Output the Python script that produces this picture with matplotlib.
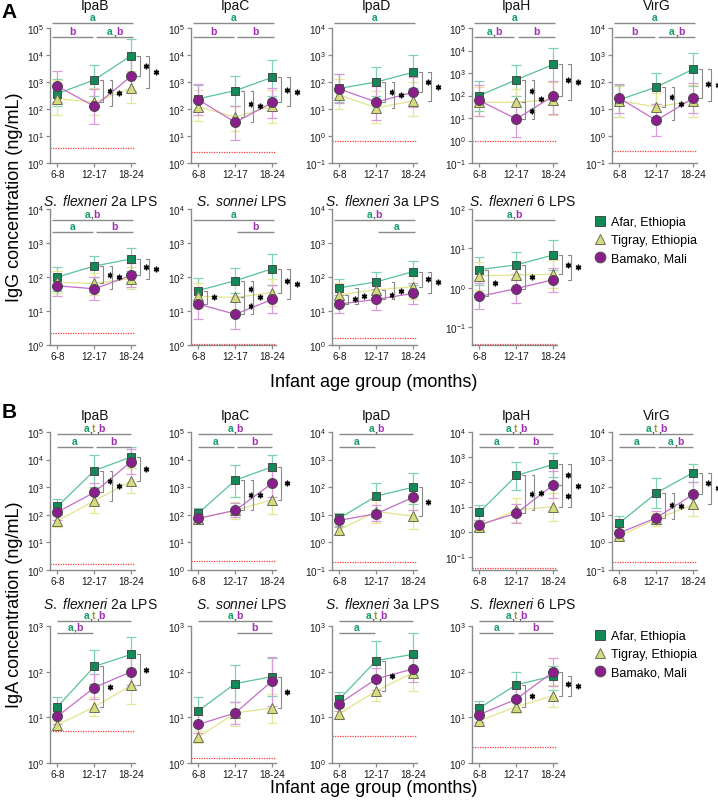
import numpy as np
import matplotlib
matplotlib.use('Agg')
import matplotlib.pyplot as plt
from matplotlib.lines import Line2D
from matplotlib.ticker import NullLocator
from matplotlib.transforms import offset_copy

plt.rcParams['font.family'] = ['Liberation Sans', 'DejaVu Sans']
plt.rcParams['mathtext.fontset'] = 'custom'
plt.rcParams['mathtext.rm'] = 'Liberation Sans'
plt.rcParams['mathtext.it'] = 'Liberation Sans:italic'
plt.rcParams['mathtext.bf'] = 'Liberation Sans:bold'

# ---------------- data ----------------
AGE_GROUPS = ['6-8', '12-17', '18-24']
SITES = ['Afar, Ethiopia', 'Tigray, Ethiopia', 'Bamako, Mali']
TITLES = ['IpaB', 'IpaC', 'IpaD', 'IpaH', 'VirG',
          r'$\mathit{S.\ flexneri}$ 2a LPS', r'$\mathit{S.\ sonnei}$ LPS',
          r'$\mathit{S.\ flexneri}$ 3a LPS', r'$\mathit{S.\ flexneri}$ 6 LPS']

# IgG (panel A): rows = antigens in TITLES order, columns = age groups
IGG_AFAR = [[370, 1200, 9500], [240, 480, 1500], [58, 100, 230], [100, 500, 2400], [22, 65, 300],
            [100, 210, 340], [40, 78, 175], [48, 72, 145], [2.9, 3.8, 6.8]]
IGG_AFAR_LO = [[130, 300, 2000], [90, 130, 300], [18, 30, 60], [20, 100, 400], [5, 15, 70],
               [40, 100, 150], [18, 35, 60], [22, 35, 60], [1.2, 1.7, 2.8]]
IGG_AFAR_HI = [[1300, 4300, 40000], [800, 1700, 6500], [200, 350, 1000], [450, 2300, 13000], [80, 220, 1200],
               [200, 420, 730], [95, 185, 480], [85, 140, 300], [6, 8, 16]]
IGG_TIGRAY = [[240, 180, 600], [120, 50, 130], [33, 11, 20], [50, 50, 65], [20, 12, 20],
              [70, 65, 90], [27, 25, 35], [30, 42, 52], [2.0, 2.1, 2.2]]
IGG_TIGRAY_LO = [[60, 60, 170], [35, 15, 30], [10, 3, 5.5], [12, 12, 13], [5, 3, 5],
                 [35, 30, 45], [12, 10, 14], [14, 20, 22], [0.9, 0.9, 1.0]]
IGG_TIGRAY_HI = [[1200, 600, 2500], [500, 130, 500], [130, 45, 100], [250, 200, 400], [70, 40, 80],
                 [150, 130, 200], [65, 65, 90], [65, 90, 110], [4.5, 4.5, 5]]
IGG_BAMAKO = [[700, 125, 1650], [220, 32, 175], [55, 18, 42], [60, 9, 95], [25, 3.8, 25],
              [55, 45, 112], [16, 8, 22], [16, 22, 33], [0.6, 0.95, 1.6]]
IGG_BAMAKO_LO = [[180, 28, 450], [60, 7, 45], [16, 4, 12], [12, 1.5, 15], [7, 1, 7],
                 [28, 21, 50], [6, 3, 9], [8.5, 11, 16], [0.28, 0.4, 0.8]]
IGG_BAMAKO_HI = [[2500, 550, 9000], [850, 130, 600], [200, 70, 150], [280, 50, 450], [85, 15, 90],
                 [110, 100, 260], [45, 25, 60], [30, 45, 65], [1.3, 2.2, 3.2]]
IGG_LOD = [3.6, 2.6, 0.68, 1.0, 0.28, 2.3, 1.05, 1.6, 0.038]
IGG_YMIN = [1, 1, 0.1, 0.1, 0.1, 1, 1, 1, 0.035]
IGG_YMAX = [1e5, 1e5, 1e4, 1e5, 1e4, 1e4, 1e4, 1e4, 1e2]

# IgA (panel B)
IGA_AFAR = [[200, 4000, 12500], [115, 1800, 5500], [7.5, 48, 100], [6, 180, 500], [5, 62, 340],
            [17, 130, 240], [14, 55, 78], [25, 175, 240], [16, 52, 80]]
IGA_AFAR_LO = [[100, 1000, 5000], [70, 450, 1800], [4, 15, 25], [3, 45, 160], [2.8, 18, 150],
               [10, 55, 100], [7, 22, 30], [17, 70, 85], [11, 27, 40]]
IGA_AFAR_HI = [[380, 15000, 28000], [180, 6500, 15000], [12, 140, 340], [12, 600, 1400], [9, 210, 700],
               [28, 300, 580], [28, 140, 200], [36, 460, 720], [23, 100, 130]]
IGA_TIGRAY = [[60, 320, 1700], [72, 145, 350], [2.9, 13, 9], [1.6, 7.5, 10], [1.7, 7, 24],
              [6.8, 17, 50], [3.7, 12.5, 16], [12, 38, 95], [8.5, 17, 30]]
IGA_TIGRAY_LO = [[35, 120, 600], [50, 70, 110], [1.9, 5, 3], [1.1, 2.5, 2.8], [1.2, 3.8, 9],
                 [5.5, 10.5, 20], [2.8, 6.5, 7.5], [9, 23, 38], [6.5, 12.5, 17]]
IGA_TIGRAY_HI = [[110, 900, 5000], [110, 300, 1100], [4.5, 35, 35], [2.4, 22, 35], [2.5, 12, 60],
                 [8.5, 28, 120], [5, 22, 32], [16, 62, 220], [11, 23, 52]]
IGA_BAMAKO = [[125, 650, 8500], [75, 145, 1400], [6.3, 11, 43], [1.9, 5.5, 75], [2.2, 7.8, 55],
              [10.5, 45, 100], [7, 12.5, 63], [20, 70, 115], [11.5, 25, 100]]
IGA_BAMAKO_LO = [[65, 250, 3000], [50, 80, 450], [3.5, 6, 15], [1.2, 2.2, 22], [1.4, 4.5, 18],
                 [7, 25, 50], [4.5, 7, 18], [14, 40, 60], [8, 14, 48]]
IGA_BAMAKO_HI = [[250, 1400, 25000], [110, 270, 4000], [11, 22, 120], [3, 13, 280], [3.5, 14, 160],
                 [16, 90, 200], [11, 22, 210], [29, 120, 220], [16, 45, 200]]
IGA_LOD = [1.7, 2.1, 0.19, 0.036, 0.2, 5.0, 1.3, 3.9, 2.2]
IGA_YMIN = [1, 1, 0.1, 0.029, 0.1, 1, 1, 1, 1]
IGA_YMAX = [1e5, 1e5, 1e4, 1e4, 1e4, 1e3, 1e3, 1e3, 1e3]

# significance letters: (full-span label, left-half label, right-half label)
IGG_LETTERS = [('a', 'b', 'a,b'), ('a', 'b', 'b'), ('a', '', ''), ('a', 'a,b', 'b'), ('a', 'b', 'a,b'),
               ('a,b', 'a', 'b'), ('a', '', 'b'), ('a,b', '', 'a'), ('a,b', '', '')]
IGA_LETTERS = [('a,t,b', 'a', 'b'), ('a,b', 'a', 'b'), ('a,b', 'a', ''), ('a,t,b', 'a', 'b'),
               ('a,t,b', 'a', 'a,b'), ('a,t,b', 'a,b', ''), ('a,b', '', 'b'), ('a,t,b', 'a', ''),
               ('a,t,b', 'a', 'b')]
# pairwise brackets: (age index, site 1, site 2, nesting level)
IGG_BRACKETS = [[(1, 0, 1, 0), (1, 0, 2, 1), (2, 0, 2, 0), (2, 0, 1, 1)],
                [(1, 0, 1, 0), (1, 0, 2, 1), (2, 0, 2, 0), (2, 0, 1, 1)],
                [(1, 0, 2, 0), (1, 0, 1, 1), (2, 0, 2, 0), (2, 0, 1, 1)],
                [(1, 0, 1, 0), (1, 1, 2, 0), (1, 0, 2, 1), (2, 0, 2, 0), (2, 0, 1, 1)],
                [(1, 0, 1, 0), (1, 0, 2, 1), (2, 0, 2, 0), (2, 0, 1, 1)],
                [(1, 0, 1, 0), (1, 0, 2, 1), (2, 0, 2, 0), (2, 0, 1, 1)],
                [(0, 0, 2, 0), (1, 0, 1, 0), (1, 1, 2, 0), (1, 0, 2, 1), (2, 0, 1, 0), (2, 0, 2, 1)],
                [(0, 1, 2, 0), (0, 0, 2, 1), (1, 1, 2, 0), (1, 0, 2, 1), (2, 0, 1, 0), (2, 0, 2, 1)],
                [(0, 0, 2, 0), (1, 0, 2, 0), (2, 0, 1, 0), (2, 0, 2, 1)]]
IGA_BRACKETS = [[(1, 0, 2, 0), (1, 0, 1, 1), (2, 0, 1, 0)],
                [(1, 0, 1, 0), (1, 0, 2, 1), (2, 0, 1, 0)],
                [(2, 0, 1, 0)],
                [(1, 0, 2, 0), (1, 0, 1, 1), (2, 0, 2, 0), (2, 2, 1, 0), (2, 0, 1, 1)],
                [(1, 0, 2, 0), (1, 0, 1, 1), (2, 0, 2, 0), (2, 0, 1, 1)],
                [(1, 0, 1, 0), (2, 0, 1, 0)],
                [(2, 0, 1, 0)],
                [(1, 0, 1, 0)],
                [(1, 0, 1, 0), (2, 2, 1, 0), (2, 0, 1, 1)]]

# ---------------- style ----------------
W, H = 718, 803
fig = plt.figure(figsize=(W / 100, H / 100), dpi=100)

COL_X = [50, 191, 332, 472, 612]
AX_W = 85
ROWS = {'A1': (29, 164), 'A2': (210, 346), 'B1': (433, 571), 'B2': (627, 764)}
LETTER_Y = {'A1': (1.037, 0.933), 'A2': (0.92, 0.83), 'B1': (0.985, 0.89), 'B2': (1.036, 0.95)}
LETTER_X = {'A': (-0.15, 2.05), 'B': (0.0, 2.0)}
TITLE_Y = {'A1': 6, 'A2': 201, 'B1': 416, 'B2': 605}
TITLE_DX = {'A1': 2, 'A2': 8, 'B1': 2, 'B2': 8}

MARKERS = ['s', '^', 'o']
MSIZE = [6.3, 7.0, 7.2]
FACE = ['#128a57', '#d5dc7b', '#8b1e8d']
EDGE = ['#4a4a4a', '#6b6b5a', '#4a4a4a']
LINEC = ['#58c29a', '#e2e58c', '#c66ccb']
ERRC = ['#80d3b0', '#e4e897', '#d89cdb']
LETTER_COLORS = {'a': '#1a9e68', 'b': '#a12eb2', 't': '#9d9a3c', ',': '#555555'}
GRAY = '#8a8a8a'
BRK = '#8a8a8a'


def put_multicolor(ax, xc, y, label):
    r = fig.canvas.get_renderer()
    widths = []
    for ch in label:
        t = fig.text(0, 0, ch, fontsize=7.5, fontweight='bold')
        widths.append(t.get_window_extent(renderer=r).width)
        t.remove()
    x_off = -sum(widths) / 2
    base = ax.get_xaxis_transform()
    for ch, w in zip(label, widths):
        tr = offset_copy(base, fig=fig, x=x_off, y=1.0, units='dots')
        ax.text(xc, y, ch, color=LETTER_COLORS[ch], fontsize=7.5, fontweight='bold',
                ha='left', va='bottom', transform=tr, clip_on=False)
        x_off += w


def letter_line(ax, x0, x1, y, label):
    ax.plot([x0, x1], [y, y], color=GRAY, lw=1.0, transform=ax.get_xaxis_transform(),
            clip_on=False, solid_capstyle='butt')
    if label:
        put_multicolor(ax, (x0 + x1) / 2, y, label)


def draw_panel(ax, i, rowkey, series, los, his, lod, ymin, ymax, letters, brackets):
    x = np.arange(len(AGE_GROUPS))
    ax.set_yscale('log')
    for s in range(3):
        v = np.array(series[s][i], float)
        lo = np.array(los[s][i], float)
        hi = np.array(his[s][i], float)
        ax.errorbar(x, v, yerr=[v - lo, hi - v], fmt='none', ecolor=ERRC[s], elinewidth=0.9,
                    capsize=3.5, capthick=0.9, zorder=2 + s * 0.1, clip_on=False)
    for s in range(3):
        v = np.array(series[s][i], float)
        ax.plot(x, v, color=LINEC[s], lw=0.9, zorder=3 + s * 0.1, clip_on=False)
    for s in range(3):
        v = np.array(series[s][i], float)
        ax.plot(x, v, linestyle='none', marker=MARKERS[s], ms=MSIZE[s], mfc=FACE[s],
                mec=EDGE[s], mew=0.7, zorder=5 + s * 0.1, clip_on=False)
    ax.axhline(lod, color='#ff3b3b', lw=0.9, ls=(0, (1, 1)), zorder=1)
    ax.set_xlim(-0.2, 2.1)
    ax.set_ylim(ymin, ymax)
    kmin = int(np.ceil(np.log10(ymin) - 1e-9))
    kmax = int(np.floor(np.log10(ymax) + 1e-9))
    ks = list(range(kmin, kmax + 1))
    ax.set_yticks([10.0 ** k for k in ks])
    ax.set_yticklabels([r'$10^{%d}$' % k for k in ks])
    ax.yaxis.set_minor_locator(NullLocator())
    ax.set_xticks(x)
    ax.set_xticklabels(AGE_GROUPS)
    for sp in ['top', 'right']:
        ax.spines[sp].set_visible(False)
    for sp in ['left', 'bottom']:
        ax.spines[sp].set_color(GRAY)
        ax.spines[sp].set_linewidth(1.0)
    ax.tick_params(axis='both', colors=GRAY, labelcolor='#1a1a1a', labelsize=7.2,
                   length=3, width=0.9, pad=1.5)
    ax.set_facecolor('none')
    # significance letters
    yt, ys = LETTER_Y[rowkey]
    x0, x1 = LETTER_X[rowkey[0]]
    full, left, right = letters[i]
    letter_line(ax, x0, x1, yt, full)
    if left:
        letter_line(ax, x0, 0.95, ys, left)
    if right:
        letter_line(ax, 1.05, x1, ys, right)
    # brackets with asterisks
    for (xi, s1, s2, lvl) in brackets[i]:
        ya = series[s1][i][xi]
        yb = series[s2][i][xi]
        xb = xi + 0.24 + 0.25 * lvl
        tk = 0.08
        ax.plot([xb - tk, xb, xb, xb - tk], [ya, ya, yb, yb], color=BRK, lw=0.8,
                clip_on=False, zorder=6)
        ax.plot([xb + 0.17], [np.sqrt(ya * yb)], linestyle='none', marker=(6, 2, 0), ms=4.0,
                mec='black', mew=1.0, clip_on=False, zorder=6)


def place_axes(col, rowkey):
    top, bot = ROWS[rowkey]
    return fig.add_axes([COL_X[col] / W, 1 - bot / H, AX_W / W, (bot - top) / H])


def fig_text(xp, yp, s, **kw):
    fig.text(xp / W, 1 - yp / H, s, **kw)


PANELS = [
    ('A', IGG_AFAR, IGG_TIGRAY, IGG_BAMAKO, IGG_AFAR_LO, IGG_TIGRAY_LO, IGG_BAMAKO_LO,
     IGG_AFAR_HI, IGG_TIGRAY_HI, IGG_BAMAKO_HI, IGG_LOD, IGG_YMIN, IGG_YMAX, IGG_LETTERS, IGG_BRACKETS),
    ('B', IGA_AFAR, IGA_TIGRAY, IGA_BAMAKO, IGA_AFAR_LO, IGA_TIGRAY_LO, IGA_BAMAKO_LO,
     IGA_AFAR_HI, IGA_TIGRAY_HI, IGA_BAMAKO_HI, IGA_LOD, IGA_YMIN, IGA_YMAX, IGA_LETTERS, IGA_BRACKETS),
]

for (P, a, t, b, alo, tlo, blo, ahi, thi, bhi, lod, ymin, ymax, letters, brackets) in PANELS:
    series = [a, t, b]
    los = [alo, tlo, blo]
    his = [ahi, thi, bhi]
    for i in range(len(TITLES)):
        rowkey = P + ('1' if i < 5 else '2')
        col = i if i < 5 else i - 5
        ax = place_axes(col, rowkey)
        draw_panel(ax, i, rowkey, series, los, his, lod[i], ymin[i], ymax[i], letters, brackets)
        fig_text(COL_X[col] + AX_W / 2 + TITLE_DX[rowkey], TITLE_Y[rowkey], TITLES[i],
                 ha='center', va='center', fontsize=10, color='#111111')

# legends
handles = [Line2D([], [], linestyle='none', marker=MARKERS[s], ms=MSIZE[s] + 0.5, mfc=FACE[s],
                  mec=EDGE[s], mew=0.7) for s in range(3)]
for ypos in [217, 631]:
    fig.legend(handles, SITES, loc='upper left', bbox_to_anchor=(595 / W, 1 - ypos / H),
               frameon=False, fontsize=9, handlelength=0.8, handletextpad=0.45,
               labelspacing=0.5, borderpad=0, borderaxespad=0)

# shared labels
fig_text(374, 383, 'Infant age group (months)', ha='center', va='center', fontsize=13)
fig_text(374, 789, 'Infant age group (months)', ha='center', va='center', fontsize=13)
fig_text(15, 197, 'IgG concentration (ng/mL)', ha='center', va='center', fontsize=13, rotation=90)
fig_text(15, 605, 'IgA concentration (ng/mL)', ha='center', va='center', fontsize=13, rotation=90)
fig_text(9, 12, 'A', ha='center', va='center', fontsize=15, fontweight='bold')
fig_text(9, 413, 'B', ha='center', va='center', fontsize=15, fontweight='bold')

fig.savefig('out.png', dpi=100)
